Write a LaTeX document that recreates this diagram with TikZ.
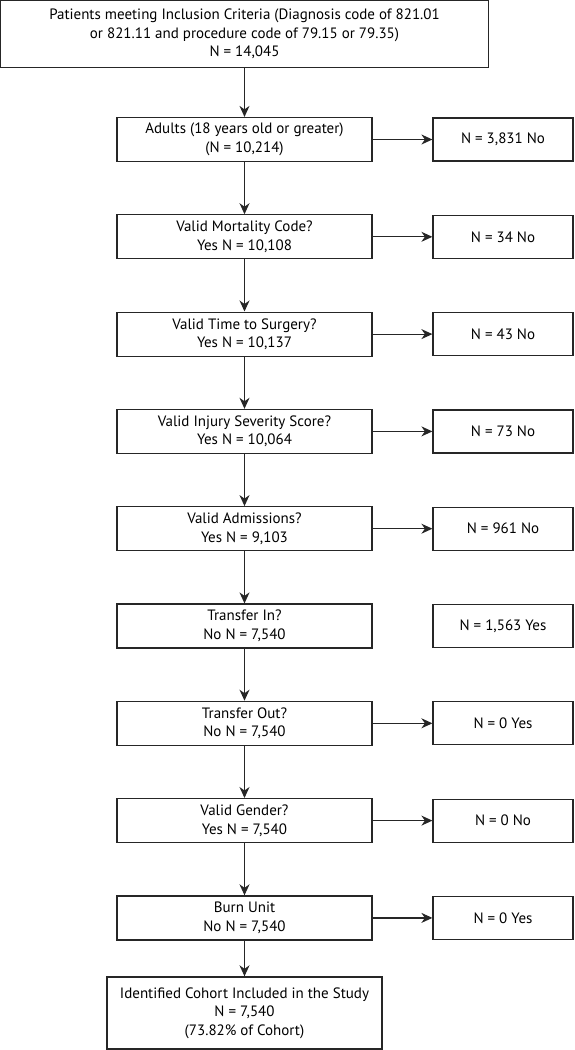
\documentclass[tikz,border=0pt]{standalone}
\usepackage{fontspec}
\setmainfont{PT Sans}
\usepackage{tikz}
\usetikzlibrary{arrows.meta}

\begin{document}
\begin{tikzpicture}[x=1pt, y=-1pt, node distance=97.3pt,
  every node/.style={font=\fontsize{15}{18.5}\selectfont, align=center},
  stepbox/.style={draw=black!85, line width=1.2pt, minimum width=255pt, minimum height=44pt, inner sep=0pt},
  outbox/.style={draw=black!85, line width=1.2pt, minimum width=140pt, minimum height=43pt, inner sep=0pt},
  arr/.style={-{Stealth[length=11pt, width=10pt, inset=3.5pt]}, line width=1.2pt, black!85}]
\useasboundingbox (0,0) rectangle (574,1050);

\node[stepbox, minimum width=488pt, minimum height=67pt] (incl) at (244.5,34) {Patients meeting Inclusion Criteria (Diagnosis code of 821.01\\or 821.11 and procedure code of 79.15 or 79.35)\\N = 14,045};
\node[stepbox, below of=incl, node distance=105.5pt] (adults) {Adults (18 years old or greater)\\(N = 10,214)};
\node[stepbox, below of=adults] (mort) {Valid Mortality Code?\\Yes N = 10,108};
\node[stepbox, below of=mort] (time) {Valid Time to Surgery?\\Yes N = 10,137};
\node[stepbox, below of=time] (iss) {Valid Injury Severity Score?\\Yes N = 10,064};
\node[stepbox, below of=iss] (adm) {Valid Admissions?\\Yes N = 9,103};
\node[stepbox, below of=adm] (tin) {Transfer In?\\No N = 7,540};
\node[stepbox, below of=tin] (tout) {Transfer Out?\\No N = 7,540};
\node[stepbox, below of=tout] (gender) {Valid Gender?\\Yes N = 7,540};
\node[stepbox, below of=gender] (burn) {Burn Unit\\No N = 7,540};
\node[stepbox, below of=burn, node distance=95pt, minimum width=275pt, minimum height=72pt] (cohort) {Identified Cohort Included in the Study\\N = 7,540\\(73.82\% of Cohort)};

\node[outbox, right of=adults, node distance=258.5pt] (xadults) {N = 3,831 No};
\node[outbox, right of=mort, node distance=258.5pt] (xmort) {N = 34 No};
\node[outbox, right of=time, node distance=258.5pt] (xtime) {N = 43 No};
\node[outbox, right of=iss, node distance=258.5pt] (xiss) {N = 73 No};
\node[outbox, right of=adm, node distance=258.5pt] (xadm) {N = 961 No};
\node[outbox, right of=tin, node distance=258.5pt] (xtin) {N = 1,563 Yes};
\node[outbox, right of=tout, node distance=258.5pt] (xtout) {N = 0 Yes};
\node[outbox, right of=gender, node distance=258.5pt] (xgender) {N = 0 No};
\node[outbox, right of=burn, node distance=258.5pt] (xburn) {N = 0 Yes};

\foreach \a/\b in {incl/adults, adults/mort, mort/time, time/iss, iss/adm, adm/tin, tin/tout, tout/gender, gender/burn, burn/cohort}
  \draw[arr] (\a) -- (\b);
\foreach \a in {adults, mort, time, iss, adm, tout, gender, burn}
  \draw[arr] (\a) -- (x\a);
\end{tikzpicture}
\end{document}
